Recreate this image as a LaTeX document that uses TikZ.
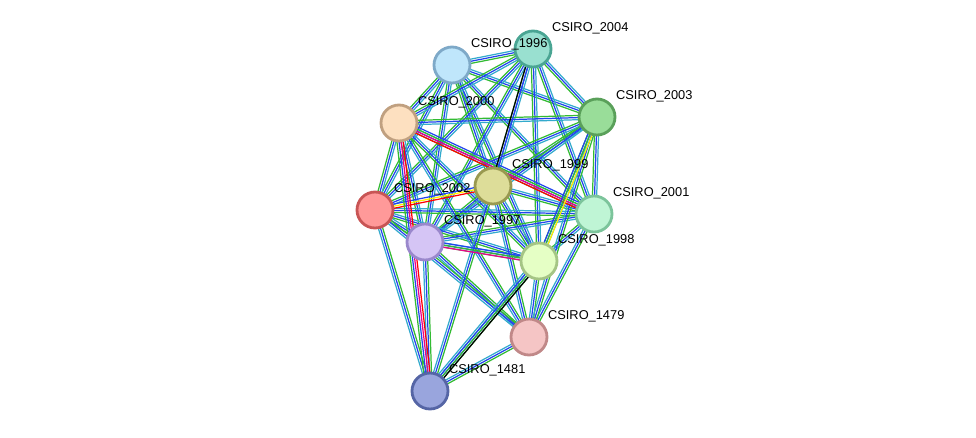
\documentclass[tikz,border=0pt]{standalone}
\usepackage{fontspec}
\setmainfont{Liberation Sans}
\usetikzlibrary{calc}
\definecolor{f1996}{HTML}{BFE6FB}\definecolor{b1996}{HTML}{7EA9C8}
\definecolor{f2004}{HTML}{99E0D0}\definecolor{b2004}{HTML}{4AA593}
\definecolor{f2003}{HTML}{99DD99}\definecolor{b2003}{HTML}{5AA05A}
\definecolor{f2000}{HTML}{FDE0C0}\definecolor{b2000}{HTML}{C0A080}
\definecolor{f1999}{HTML}{DDDD99}\definecolor{b1999}{HTML}{999950}
\definecolor{f2002}{HTML}{FF9999}\definecolor{b2002}{HTML}{C85555}
\definecolor{f2001}{HTML}{BFF5D5}\definecolor{b2001}{HTML}{7CC49B}
\definecolor{f1997}{HTML}{D5C5F5}\definecolor{b1997}{HTML}{9A88CC}
\definecolor{f1998}{HTML}{E5FFC5}\definecolor{b1998}{HTML}{A5C585}
\definecolor{f1479}{HTML}{F5C5C5}\definecolor{b1479}{HTML}{C08888}
\definecolor{f1481}{HTML}{99A5DD}\definecolor{b1481}{HTML}{5565A5}
\definecolor{lgreen}{HTML}{33BB33}\definecolor{lblue}{HTML}{2244EE}
\definecolor{lcyan}{HTML}{33AACC}
\tikzset{
  prot/.style={circle,minimum size=36\px,inner sep=0pt,line width=1.6pt},
  lbl/.style={font=\fontsize{7.3}{8}\selectfont,anchor=west,inner sep=1pt},
  lnk/.style={line width=.7pt}
}
\newlength\px \setlength\px{0.02cm}
% edge made of parallel coloured strands
\newcommand\lnkdraw[3]{%
  \foreach \c [count=\i] in {#3} {
    \pgfmathsetmacro\o{(\i-2)*1.2}
    \draw[lnk,\c] ($(#1)!\o pt!90:(#2)$) -- ($(#2)!\o pt!-90:(#1)$);
  }}
\begin{document}
\begin{tikzpicture}[x=0.02cm,y=-0.02cm]
\useasboundingbox (0,0) rectangle (976,437);
% positions
\foreach \n/\x/\y in {1996/452/65,2004/533/49,2003/597/117,2000/399/123,1999/493/186,
  2002/375/210,2001/594/214,1997/425/242,1998/539/261,1479/529/337,1481/430/391}
  \coordinate (c\n) at (\x,\y);
% edges
\foreach \a/\b in {1996/2004,1996/2003,1996/2000,1996/1999,1996/2002,1996/2001,1996/1997,1996/1998,
  2004/2003,2004/2000,2004/1999,2004/2002,2004/2001,2004/1997,2004/1998,
  2003/2000,2003/1999,2003/2002,2003/2001,2003/1997,2003/1998,
  2000/2002,2000/2001,2000/1997,2000/1998,1999/2001,1999/1997,1999/1998,
  2002/2001,2002/1997,2002/1998,2001/1997,2001/1998,1997/1998,
  1479/1997,1479/1999,1479/1998,1479/2001,1479/2000,1479/2003,1479/2002,
  1481/2002,1481/1997,1481/1999,1481/1998,1481/1479}
  \lnkdraw{c\a}{c\b}{lgreen,lblue,lcyan};
\lnkdraw{c2000}{c2001}{red,magenta,lgreen,lblue}
\lnkdraw{c2002}{c1999}{red,yellow,lblue}
\lnkdraw{c1481}{c2000}{red,magenta,lblue,lgreen}
\lnkdraw{c1481}{c1998}{black,lgreen,lblue,lcyan}
\lnkdraw{c1997}{c1998}{magenta,lgreen,lblue}
\lnkdraw{c2004}{c1999}{black,lblue}
\lnkdraw{c1998}{c2003}{yellow,lgreen,lblue}
% proteins
\foreach \n/\x/\y in {1996/452/65,2004/533/49,2003/597/117,2000/399/123,1999/493/186,
  2002/375/210,2001/594/214,1997/425/242,1998/539/261,1479/529/337,1481/430/391}
  \node[prot,fill=f\n,draw=b\n] (p\n) at (\x,\y) {};
\foreach \n/\x/\y in {1996/452/65,2004/533/49,2003/597/117,2000/399/123,1999/493/186,
  2002/375/210,2001/594/214,1997/425/242,1998/539/261,1479/529/337,1481/430/391}
  \node[lbl] (t\n) at (\x+17,\y-21) {CSIRO\_\n};
\end{tikzpicture}
\end{document}
